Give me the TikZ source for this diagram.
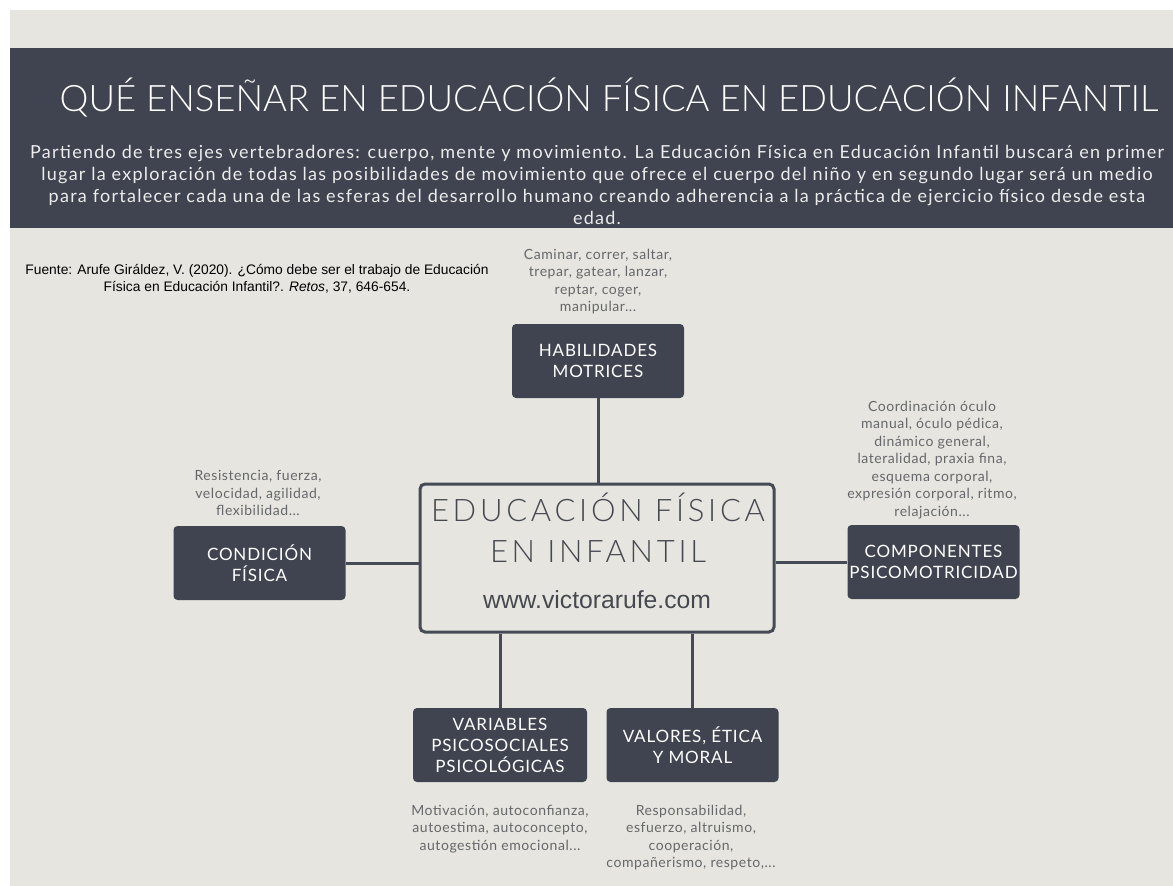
\documentclass[tikz,border=0pt]{standalone}
\usepackage{fontspec}
\setmainfont{Lato}
\IfFontExistsTF{Lato Light}
  {\newfontfamily\titulofont{Lato Light}
   \newfontfamily\centrofont[LetterSpace=12]{Lato Light}}
  {\newfontfamily\titulofont{Lato}
   \newfontfamily\centrofont[LetterSpace=12]{Lato}}
\newfontfamily\introfont[LetterSpace=7]{Lato}
\newfontfamily\fuentefont{Liberation Sans}
\newfontfamily\ejefont[LetterSpace=5]{Lato}
\newfontfamily\notafont[LetterSpace=4]{Lato}
\definecolor{fondo}{HTML}{E6E5DF}
\definecolor{cajagris}{HTML}{3F4450}
\definecolor{lineagris}{HTML}{464A55}
\definecolor{notagris}{HTML}{66676B}
\definecolor{centrogris}{HTML}{45484F}
\definecolor{introblanco}{HTML}{ECECEC}

\begin{document}
\begin{tikzpicture}[
  x = 1pt, y = -1pt,
  eje/.style = {
    shape = rectangle,
    rounded corners = 4pt,
    fill = cajagris,
    text = white,
    minimum width = 172pt,
    minimum height = 74pt,
    inner sep = 0pt,
    align = center,
    font = \ejefont\fontsize{17}{21}\selectfont
  },
  nota/.style = {
    text = notagris,
    align = center,
    inner sep = 0pt,
    font = \notafont\fontsize{14}{17.5}\selectfont
  },
  enlace/.style = {
    draw = lineagris,
    line width = 3pt
  }
]
  \useasboundingbox (0,0) rectangle (1173,886);
  \fill[white] (0,0) rectangle (1173,886);
  \fill[fondo] (10,10) rectangle (1173,886);
  \fill[cajagris] (10,48) rectangle (1173,228);

  \node[text = white, font = \titulofont\fontsize{36.5}{40}\selectfont] (titulo) at (609, 98)
    {QUÉ ENSEÑAR EN EDUCACIÓN FÍSICA EN EDUCACIÓN INFANTIL};
  \node[text = introblanco, align = center, inner sep = 0pt,
        font = \introfont\fontsize{18}{22}\selectfont] (intro) at (597, 185)
    {Partiendo de tres ejes vertebradores: cuerpo, mente y movimiento. La Educación Física en Educación Infantil buscará en primer\\
     lugar la exploración de todas las posibilidades de movimiento que ofrece el cuerpo del niño y en segundo lugar será un medio\\
     para fortalecer cada una de las esferas del desarrollo humano creando adherencia a la práctica de ejercicio físico desde esta\\
     edad.};

  \node[align = center, inner sep = 0pt, font = \fuentefont\fontsize{13.8}{16.5}\selectfont] (fuente) at (257, 279)
    {Fuente: Arufe Giráldez, V. (2020). ¿Cómo debe ser el trabajo de Educación\\
     Física en Educación Infantil?. \textit{Retos}, 37, 646-654.};

  % nodo central
  \node[draw = lineagris, line width = 3pt, rounded corners = 5pt, fill = fondo,
        minimum width = 354pt, minimum height = 148pt] (centro) at (597, 558) {};
  \node[anchor = base, text = centrogris, inner sep = 0pt,
        font = \centrofont\fontsize{31}{32}\selectfont] (lema1) at (598, 521) {EDUCACIÓN FÍSICA};
  \node[anchor = base, text = centrogris, inner sep = 0pt,
        font = \centrofont\fontsize{31}{32}\selectfont] (lema2) at (598, 562) {EN INFANTIL};
  \node[anchor = base, text = centrogris, inner sep = 0pt,
        font = \fuentefont\fontsize{24.7}{26}\selectfont] (web) at (597, 608) {www.victorarufe.com};

  % ejes
  \node[eje] (habil) at (598, 361) {HABILIDADES\\MOTRICES};
  \node[eje] (condicion) at (259.5, 563) {CONDICIÓN\\FÍSICA};
  \node[eje] (compon) at (933.5, 562) {COMPONENTES\\PSICOMOTRICIDAD};
  \node[eje, minimum width = 174pt] (varia) at (500, 745) {VARIABLES\\PSICOSOCIALES\\PSICOLÓGICAS};
  \node[eje] (valores) at (692.5, 745) {VALORES, ÉTICA\\Y MORAL};

  \draw[enlace] (habil.south) -- (habil.south |- centro.north);
  \draw[enlace] (condicion.east) -- (condicion.east -| centro.west);
  \draw[enlace] (compon.west -| centro.east) -- (compon.west);
  \draw[enlace] (varia.north) -- (varia.north |- centro.south);
  \draw[enlace] (valores.north) -- (valores.north |- centro.south);

  % notas
  \node[nota] (n-habil) at (598, 281.5)
    {Caminar, correr, saltar,\\trepar, gatear, lanzar,\\reptar, coger,\\manipular...};
  \node[nota] (n-condicion) at (258, 493)
    {Resistencia, fuerza,\\velocidad, agilidad,\\flexibilidad...};
  \node[nota] (n-compon) at (932, 460)
    {Coordinación óculo\\manual, óculo pédica,\\dinámico general,\\lateralidad, praxia fina,\\esquema corporal,\\expresión corporal, ritmo,\\relajación...};
  \node[nota] (n-varia) at (500, 829)
    {Motivación, autoconfianza,\\autoestima, autoconcepto,\\autogestión emocional...};
  \node[nota] (n-valores) at (691, 837.5)
    {Responsabilidad,\\esfuerzo, altruismo,\\cooperación,\\compañerismo, respeto,...};
\end{tikzpicture}
\end{document}
